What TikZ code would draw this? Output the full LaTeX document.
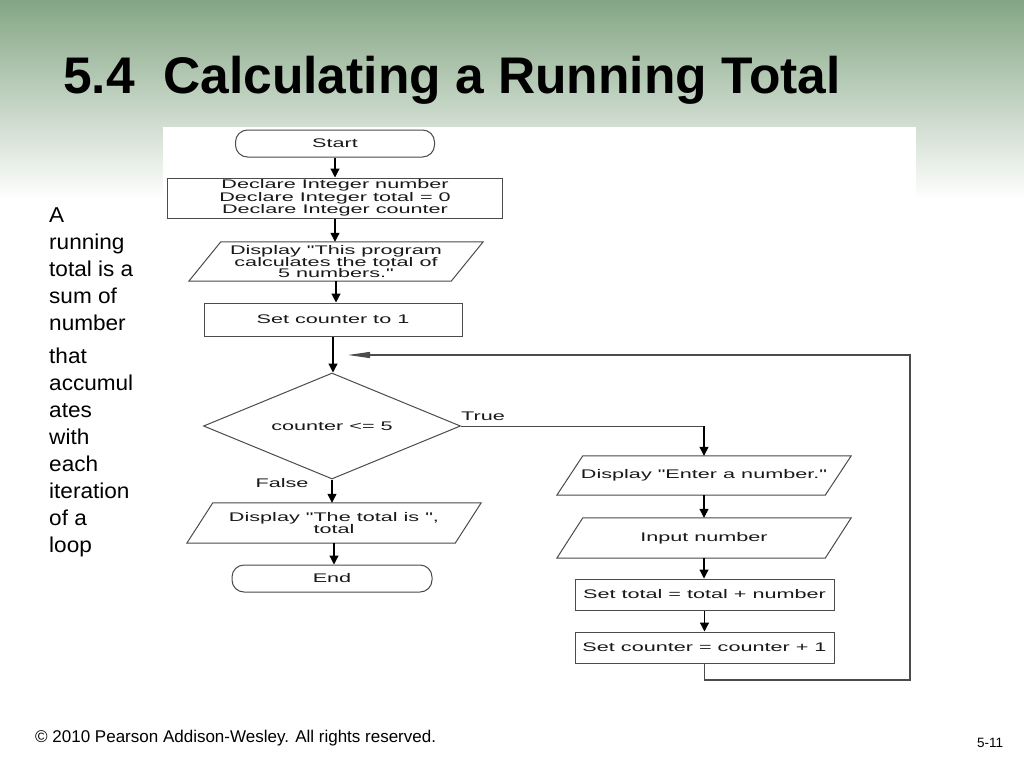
\documentclass[tikz,border=0pt]{standalone}
\usepackage{fontspec}
\setmainfont{Liberation Sans}
\newfontfamily\fcfont[FakeStretch=1.73]{Liberation Sans}
\newfontfamily\sidefont[FakeStretch=1.05]{Liberation Sans}
\usetikzlibrary{shapes.geometric,arrows.meta}
\definecolor{bgtop}{RGB}{132,166,132}
\definecolor{lineg}{RGB}{75,75,75}
\newcommand\drawpara[2]{\draw[outline] ([xshift=#2]#1.north west) -- ([xshift=#2]#1.north east) -- ([xshift=-#2]#1.south east) -- ([xshift=-#2]#1.south west) -- cycle;}
\tikzset{
  fc/.style={font=\fcfont\fontsize{12.5}{10.8}\selectfont, align=center, text=black!90, inner sep=0pt},
  outline/.style={draw=lineg, line width=1pt},
  proc/.style={fc, outline},
  io/.style={fc},
  term/.style={fc, outline, rounded corners=12pt, minimum height=27pt},
  dec/.style={fc, outline, diamond, aspect=2.42, minimum width=257pt, minimum height=106pt},
  arr/.style={draw=black, line width=1.2pt, -{Triangle[width=9pt,length=9pt]}},
  looparr/.style={draw=lineg, line width=1.1pt, -{Triangle[width=6pt,length=22pt]}},
  lbl/.style={fc},
}
\begin{document}
\begin{tikzpicture}[x=1pt,y=-1pt]
\useasboundingbox (0,0) rectangle (1024,768);
\fill[white] (0,0) rectangle (1024,768);
\shade[top color=bgtop, bottom color=white] (0,0) rectangle (1024,200);
\fill[white] (163,127) rectangle (916,700);

% title
\node[anchor=base west, inner sep=0pt, font=\bfseries\fontsize{51.5}{55}\selectfont] (title) at (63,93) {5.4\ \ Calculating a Running Total};

% side text
\node[anchor=north west, inner sep=0pt, align=left, font=\sidefont\fontsize{21.5}{27}\selectfont] (side) at (49,207.6)
  {A\\running\\total is a\\sum of\\number\\[6pt]that\\accumul\\ates\\with\\each\\iteration\\of a\\loop};

% footer
\node[anchor=base west, inner sep=0pt, font=\fontsize{17}{20}\selectfont] (copy) at (35,742.5) {\textcopyright{} 2010 Pearson Addison-Wesley. All rights reserved.};
\node[anchor=base west, inner sep=0pt, font=\fontsize{13.5}{16}\selectfont] (pg) at (977,747.5) {5-11};

% flowchart nodes
\node[term, minimum width=199pt] (start) at (335,143.5) {Start};
\node[proc, minimum width=335pt, minimum height=40pt] (decl) at (335,198) {Declare Integer number\\Declare Integer total = 0\\Declare Integer counter};
\node[io, minimum width=262pt, minimum height=39pt] (disp1) at (336,261.5) {Display "This program\\calculates the total of\\5 numbers."};
\drawpara{disp1}{16}
\node[proc, minimum width=258pt, minimum height=33pt] (setc) at (333,319.5) {Set counter to 1};
\node[dec] (cond) at (332,426) {counter <= 5};
\node[io, minimum width=268pt, minimum height=40pt] (disp2) at (334,523) {Display "The total is ",\\total};
\drawpara{disp2}{13}
\node[term, minimum width=200pt] (end) at (332,578.5) {End};

\node[io, minimum width=268pt, minimum height=39pt] (ent) at (704,475.5) {Display "Enter a number."};
\drawpara{ent}{13}
\node[io, minimum width=268pt, minimum height=40pt] (inp) at (704,538) {Input number};
\drawpara{inp}{13}
\node[proc, minimum width=259pt, minimum height=31pt] (sett) at (704.5,594.5) {Set total = total + number};
\node[proc, minimum width=259pt, minimum height=31pt] (setcc) at (704.5,647.5) {Set counter = counter + 1};

% labels
\node[lbl, anchor=west] (tl) at (461,416) {True};
\node[lbl] (fl) at (282,483) {False};

% connectors
\draw[arr] (start.south) -- (start.south |- decl.north);
\draw[arr] (decl.south) -- (decl.south |- disp1.north);
\draw[arr] (disp1.south) -- (disp1.south |- setc.north);
\draw[arr] (setc.south) -- (setc.south |- cond.north);
\draw[arr] (cond.south) -- (cond.south |- disp2.north);
\draw[arr] (disp2.south) -- (disp2.south |- end.north);
\draw[draw=lineg, line width=1pt] (cond.east) -- (ent.north |- cond.east);
\draw[arr] (ent.north |- cond.east) -- (ent.north);
\draw[arr] (ent.south) -- (ent.south |- inp.north);
\draw[arr] (inp.south) -- (inp.south |- sett.north);
\draw[arr] (sett.south) -- (sett.south |- setcc.north);
\coordinate (lb) at (910,680);
\coordinate (lr) at (910,355);
\coordinate (tip) at (348,355);
\draw[looparr] (setcc.south) -- (setcc.south |- lb) -- (lb) -- (lr) -- (tip);
\end{tikzpicture}
\end{document}
